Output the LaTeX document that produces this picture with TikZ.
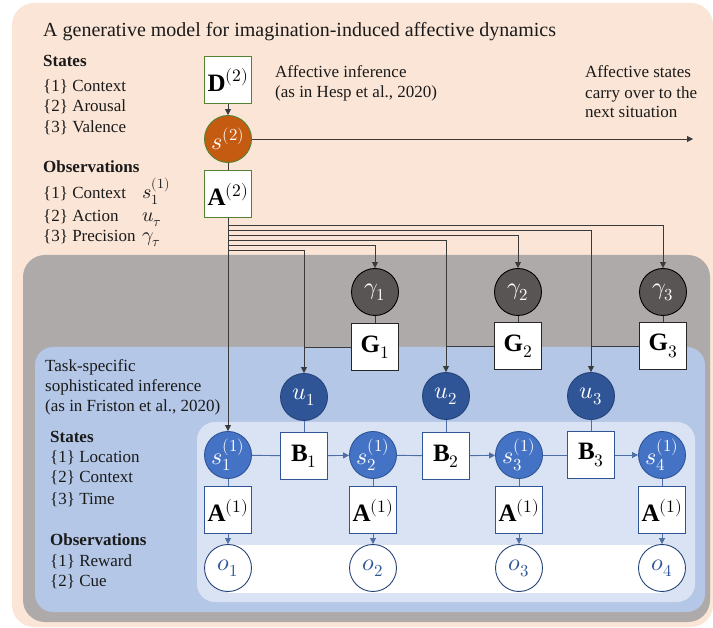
\documentclass[tikz,border=0pt]{standalone}
\usepackage{fontspec}
\usepackage{unicode-math}
\setmainfont{Liberation Serif}
\setmathfont{Latin Modern Math}
\usetikzlibrary{arrows.meta,calc}
\definecolor{peach}{HTML}{FBE5D6}
\definecolor{greyband}{HTML}{AEAAAA}
\definecolor{medblue}{HTML}{B4C7E7}
\definecolor{lightblue}{HTML}{DAE3F3}
\definecolor{affect}{HTML}{C55A11}
\definecolor{greenline}{HTML}{548235}
\definecolor{gammafill}{HTML}{5A5555}
\definecolor{ufill}{HTML}{2F5597}
\definecolor{sfill}{HTML}{4472C4}
\definecolor{blueline}{HTML}{2F5597}
\definecolor{wirecol}{HTML}{3A3A3A}
\definecolor{txt}{HTML}{1A1A1A}
\tikzset{
  bodyfont/.style={font=\fontsize{17}{20}\selectfont, text=txt},
  lbl/.style={bodyfont, anchor=base west, inner sep=0pt},
  boxnode/.style={draw, fill=white, minimum width=47pt, minimum height=47pt, inner sep=0pt, line width=0.9pt, font=\fontsize{25}{28}\selectfont},
  circnode/.style={circle, draw, minimum size=47pt, inner sep=0pt, line width=0.9pt, font=\fontsize{24}{28}\selectfont},
  greenbox/.style={boxnode, draw=greenline},
  bluebox/.style={boxnode, draw=blueline},
  blackbox/.style={boxnode, draw=black!85},
  affnode/.style={circnode, fill=affect, draw=greenline, text=white},
  gammanode/.style={circnode, fill=gammafill, draw=black, text=white},
  unode/.style={circnode, fill=ufill, draw=blueline!80!black, text=white},
  snode/.style={circnode, fill=sfill, draw=blueline, text=white},
  onode/.style={circnode, fill=white, draw=blueline!80!black, text=blueline},
  tip/.style={-{Triangle[length=6pt,width=6pt]}},
  wire/.style={draw=wirecol, line width=0.8pt},
  bwire/.style={draw=blueline!85, line width=0.9pt},
}
\begin{document}
\begin{tikzpicture}[x=1pt,y=-1pt]
\useasboundingbox (0,0) rectangle (713,628);
% backgrounds
\fill[peach, rounded corners=22pt] (12,3) rectangle (713,627);
\fill[greyband, rounded corners=22pt] (23,255) rectangle (710,622);
\fill[medblue, rounded corners=18pt] (35,347) rectangle (705,612);
\fill[lightblue, rounded corners=18pt] (197,422) rectangle (695,602);
\fill[white] (228,545) rectangle (662,593);

% title and upper text
\node[lbl, font=\fontsize{20}{23}\selectfont] (title) at (43,37) {A generative model for imagination-induced affective dynamics};
\node[lbl, font=\fontsize{17}{20}\selectfont\bfseries] (hstates) at (43,67) {States};
\node[lbl] (st1) at (43,92) {\{1\} Context};
\node[lbl] (st2) at (43,112) {\{2\} Arousal};
\node[lbl] (st3) at (43,133) {\{3\} Valence};
\node[lbl, font=\fontsize{17}{20}\selectfont\bfseries] (hobs) at (43,173) {Observations};
\node[lbl] (ob1) at (43,199) {\{1\} Context};
\node[lbl] (ob2) at (43,222) {\{2\} Action};
\node[lbl] (ob3) at (43,242) {\{3\} Precision};
\node[lbl, font=\fontsize{20}{22}\selectfont] (ob1m) at (142,199) {$s_1^{(1)}$};
\node[lbl, font=\fontsize{20}{22}\selectfont] (ob2m) at (142,222) {$u_\tau$};
\node[lbl, font=\fontsize{20}{22}\selectfont] (ob3m) at (142,242) {$\gamma_\tau$};
\node[lbl] (aff1) at (275,78) {Affective inference};
\node[lbl] (aff2) at (275,98) {(as in Hesp et al., 2020)};
\node[lbl] (carry1) at (585,78) {Affective states};
\node[lbl] (carry2) at (585,99) {carry over to the};
\node[lbl] (carry3) at (585,118) {next situation};

% lower text
\node[lbl] (task1) at (45,372) {Task-specific};
\node[lbl] (task2) at (45,392) {sophisticated inference};
\node[lbl] (task3) at (45,412) {(as in Friston et al., 2020)};
\node[lbl, font=\fontsize{17}{20}\selectfont\bfseries] (lstates) at (50,443) {States};
\node[lbl] (ls1) at (50,463) {\{1\} Location};
\node[lbl] (ls2) at (50,483) {\{2\} Context};
\node[lbl] (ls3) at (50,504) {\{3\} Time};
\node[lbl, font=\fontsize{17}{20}\selectfont\bfseries] (lobs) at (50,545) {Observations};
\node[lbl] (lo1) at (50,566) {\{1\} Reward};
\node[lbl] (lo2) at (50,586) {\{2\} Cue};

% affective level
\node[greenbox] (D2) at (228,80) {$\mathbf{D}^{(2)}$};
\node[affnode] (S2) at (228,139) {$s^{(2)}$};
\node[greenbox] (A2) at (228,194) {$\mathbf{A}^{(2)}$};
\coordinate (next) at (693,139);

% precision level
\node[gammanode] (g1) at (375,292) {$\gamma_1$};
\node[gammanode] (g2) at (518,292) {$\gamma_2$};
\node[gammanode] (g3) at (663,292) {$\gamma_3$};
\node[blackbox] (G1) at (375,347) {$\mathbf{G}_1$};
\node[blackbox] (G2) at (518,346) {$\mathbf{G}_2$};
\node[blackbox] (G3) at (663,346) {$\mathbf{G}_3$};

% actions
\node[unode] (u1) at (304,397) {$u_1$};
\node[unode] (u2) at (446,396) {$u_2$};
\node[unode] (u3) at (591,396) {$u_3$};
\node[bluebox] (B1) at (304,456) {$\mathbf{B}_1$};
\node[bluebox] (B2) at (446,456) {$\mathbf{B}_2$};
\node[bluebox] (B3) at (591,455) {$\mathbf{B}_3$};

% states
\node[snode] (s1) at (228,455) {$s_1^{(1)}$};
\node[snode] (s2) at (373,455) {$s_2^{(1)}$};
\node[snode] (s3) at (519,455) {$s_3^{(1)}$};
\node[snode] (s4) at (662,455) {$s_4^{(1)}$};
\node[bluebox] (A11) at (228,510) {$\mathbf{A}^{(1)}$};
\node[bluebox] (A12) at (373,510) {$\mathbf{A}^{(1)}$};
\node[bluebox] (A13) at (519,510) {$\mathbf{A}^{(1)}$};
\node[bluebox] (A14) at (662,510) {$\mathbf{A}^{(1)}$};
\node[onode] (o1) at (228,568) {$o_1$};
\node[onode] (o2) at (373,568) {$o_2$};
\node[onode] (o3) at (519,568) {$o_3$};
\node[onode] (o4) at (662,568) {$o_4$};

% upper connectors
\draw[wire, tip] (D2) -- (S2);
\draw[wire] (S2) -- (A2);
\draw[wire, tip] (S2) -- (next);
\draw[wire, tip] (A2.south) -- ++(0,7) -| (g3.north);
\draw[wire, tip] (A2.south) -- ++(0,12) -| (u3.north);
\draw[wire, tip] (A2.south) -- ++(0,17) -| (g2.north);
\draw[wire, tip] (A2.south) -- ++(0,22) -| (u2.north);
\draw[wire, tip] (A2.south) -- ++(0,27) -| (g1.north);
\draw[wire, tip] (A2.south) -- ++(0,32) -| (u1.north);
\draw[wire, tip] (A2.south) -- (s1.north);
\foreach \i in {1,2,3}{
  \draw[wire] (g\i) -- (G\i);
  \draw[wire] (G\i.west) -- (G\i.west -| u\i.center);
  \draw[bwire] (u\i) -- (B\i);
}
% lower connectors
\foreach \i in {1,2,3,4}{
  \draw[bwire] (s\i) -- (A1\i);
  \draw[bwire, tip] (A1\i) -- (o\i);
}
\draw[bwire] (s1) -- (B1);
\draw[bwire, tip] (B1) -- (s2);
\draw[bwire] (s2) -- (B2);
\draw[bwire, tip] (B2) -- (s3);
\draw[bwire] (s3) -- (B3);
\draw[bwire, tip] (B3) -- (s4);
\end{tikzpicture}
\end{document}
